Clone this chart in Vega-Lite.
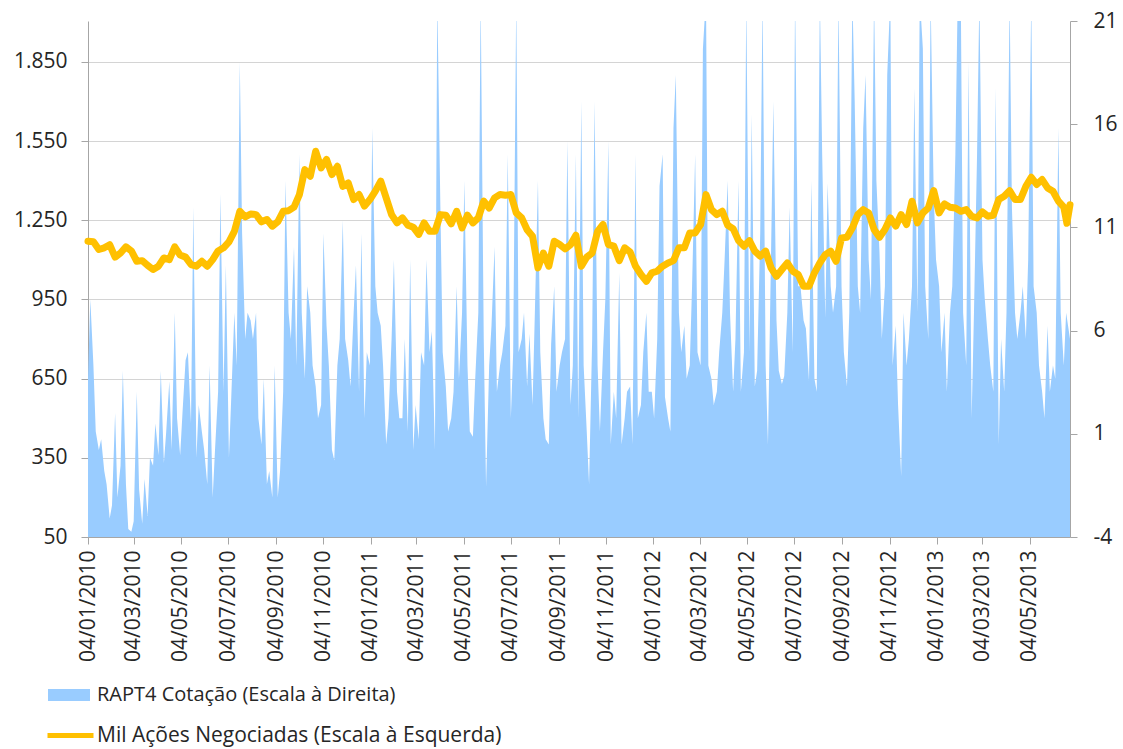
{
  "$schema": "https://vega.github.io/schema/vega-lite/v6.json",
  "autosize": {"type": "none"},
  "padding": {"left": 88, "top": 21, "right": 53, "bottom": 212},
  "width": 982,
  "height": 516,
  "background": "white",
  "config": {
    "view": {"stroke": null},
    "font": "Open Sans",
    "axis": {"labelFont": "Open Sans", "labelFontSize": 21, "labelColor": "#262626", "domainColor": "#A6A6A6", "tickColor": "#A6A6A6", "gridColor": "#D4D4D4", "tickSize": 7, "title": null}
  },
  "datasets": {
    "vol": [
      {"d":"2010-01-04","v":650},{"d":"2010-01-07","v":950},{"d":"2010-01-11","v":700},{"d":"2010-01-14","v":450},{"d":"2010-01-18","v":380},{"d":"2010-01-21","v":420},{"d":"2010-01-25","v":300},{"d":"2010-01-28","v":250},{"d":"2010-02-01","v":120},{"d":"2010-02-04","v":170},{"d":"2010-02-08","v":520},{"d":"2010-02-11","v":200},{"d":"2010-02-15","v":320},{"d":"2010-02-18","v":680},{"d":"2010-02-22","v":250},{"d":"2010-02-25","v":80},{"d":"2010-03-01","v":70},{"d":"2010-03-04","v":110},{"d":"2010-03-08","v":600},{"d":"2010-03-11","v":230},{"d":"2010-03-15","v":100},{"d":"2010-03-18","v":270},{"d":"2010-03-22","v":130},{"d":"2010-03-25","v":350},{"d":"2010-03-29","v":320},{"d":"2010-04-01","v":480},{"d":"2010-04-05","v":360},{"d":"2010-04-08","v":680},{"d":"2010-04-12","v":330},{"d":"2010-04-15","v":450},{"d":"2010-04-19","v":640},{"d":"2010-04-22","v":380},{"d":"2010-04-26","v":900},{"d":"2010-04-29","v":500},{"d":"2010-05-03","v":360},{"d":"2010-05-06","v":520},{"d":"2010-05-10","v":720},{"d":"2010-05-13","v":750},{"d":"2010-05-17","v":480},{"d":"2010-05-20","v":1300},{"d":"2010-05-24","v":350},{"d":"2010-05-27","v":550},{"d":"2010-05-31","v":450},{"d":"2010-06-03","v":380},{"d":"2010-06-07","v":250},{"d":"2010-06-10","v":700},{"d":"2010-06-14","v":200},{"d":"2010-06-17","v":380},{"d":"2010-06-21","v":600},{"d":"2010-06-24","v":1350},{"d":"2010-06-28","v":600},{"d":"2010-07-01","v":1080},{"d":"2010-07-05","v":350},{"d":"2010-07-08","v":580},{"d":"2010-07-12","v":900},{"d":"2010-07-15","v":700},{"d":"2010-07-19","v":1850},{"d":"2010-07-22","v":1200},{"d":"2010-07-26","v":800},{"d":"2010-07-29","v":900},{"d":"2010-08-02","v":870},{"d":"2010-08-05","v":800},{"d":"2010-08-09","v":900},{"d":"2010-08-12","v":500},{"d":"2010-08-16","v":400},{"d":"2010-08-19","v":650},{"d":"2010-08-23","v":250},{"d":"2010-08-26","v":300},{"d":"2010-08-30","v":200},{"d":"2010-09-02","v":700},{"d":"2010-09-06","v":200},{"d":"2010-09-09","v":300},{"d":"2010-09-13","v":600},{"d":"2010-09-16","v":1400},{"d":"2010-09-20","v":900},{"d":"2010-09-23","v":800},{"d":"2010-09-27","v":1150},{"d":"2010-09-30","v":700},{"d":"2010-10-04","v":1500},{"d":"2010-10-07","v":900},{"d":"2010-10-11","v":650},{"d":"2010-10-14","v":1000},{"d":"2010-10-18","v":900},{"d":"2010-10-21","v":700},{"d":"2010-10-25","v":620},{"d":"2010-10-28","v":500},{"d":"2010-11-01","v":550},{"d":"2010-11-04","v":1200},{"d":"2010-11-08","v":850},{"d":"2010-11-11","v":700},{"d":"2010-11-15","v":380},{"d":"2010-11-18","v":340},{"d":"2010-11-22","v":700},{"d":"2010-11-25","v":800},{"d":"2010-11-29","v":1250},{"d":"2010-12-02","v":800},{"d":"2010-12-06","v":720},{"d":"2010-12-09","v":620},{"d":"2010-12-13","v":900},{"d":"2010-12-16","v":1080},{"d":"2010-12-20","v":600},{"d":"2010-12-23","v":1200},{"d":"2010-12-27","v":500},{"d":"2010-12-30","v":750},
      {"d":"2011-01-03","v":700},{"d":"2011-01-06","v":1600},{"d":"2011-01-10","v":1000},{"d":"2011-01-13","v":900},{"d":"2011-01-17","v":850},{"d":"2011-01-20","v":700},{"d":"2011-01-24","v":400},{"d":"2011-01-27","v":500},{"d":"2011-01-31","v":800},{"d":"2011-02-03","v":1100},{"d":"2011-02-07","v":600},{"d":"2011-02-10","v":500},{"d":"2011-02-14","v":500},{"d":"2011-02-17","v":800},{"d":"2011-02-21","v":450},{"d":"2011-02-24","v":1100},{"d":"2011-02-28","v":380},{"d":"2011-03-03","v":550},{"d":"2011-03-07","v":420},{"d":"2011-03-10","v":750},{"d":"2011-03-14","v":700},{"d":"2011-03-17","v":1100},{"d":"2011-03-21","v":750},{"d":"2011-03-24","v":830},{"d":"2011-03-28","v":380},{"d":"2011-03-31","v":2100},{"d":"2011-04-04","v":1300},{"d":"2011-04-07","v":750},{"d":"2011-04-11","v":620},{"d":"2011-04-14","v":450},{"d":"2011-04-18","v":500},{"d":"2011-04-21","v":600},{"d":"2011-04-25","v":1000},{"d":"2011-04-28","v":650},{"d":"2011-05-02","v":900},{"d":"2011-05-05","v":1400},{"d":"2011-05-09","v":700},{"d":"2011-05-12","v":450},{"d":"2011-05-16","v":430},{"d":"2011-05-19","v":650},{"d":"2011-05-23","v":900},{"d":"2011-05-26","v":2100},{"d":"2011-05-30","v":800},{"d":"2011-06-02","v":240},{"d":"2011-06-06","v":700},{"d":"2011-06-09","v":850},{"d":"2011-06-13","v":1150},{"d":"2011-06-16","v":600},{"d":"2011-06-20","v":700},{"d":"2011-06-23","v":750},{"d":"2011-06-27","v":850},{"d":"2011-06-30","v":1500},{"d":"2011-07-04","v":500},{"d":"2011-07-07","v":750},{"d":"2011-07-11","v":2100},{"d":"2011-07-14","v":750},{"d":"2011-07-18","v":800},{"d":"2011-07-21","v":900},{"d":"2011-07-25","v":620},{"d":"2011-07-28","v":820},{"d":"2011-08-01","v":550},{"d":"2011-08-04","v":900},{"d":"2011-08-08","v":1400},{"d":"2011-08-11","v":750},{"d":"2011-08-15","v":500},{"d":"2011-08-18","v":420},{"d":"2011-08-22","v":400},{"d":"2011-08-25","v":780},{"d":"2011-08-29","v":1000},{"d":"2011-09-01","v":600},{"d":"2011-09-05","v":700},{"d":"2011-09-08","v":750},{"d":"2011-09-12","v":800},{"d":"2011-09-15","v":1550},{"d":"2011-09-19","v":550},{"d":"2011-09-22","v":700},{"d":"2011-09-26","v":1500},{"d":"2011-09-29","v":500},{"d":"2011-10-03","v":1700},{"d":"2011-10-06","v":700},{"d":"2011-10-10","v":450},{"d":"2011-10-13","v":250},{"d":"2011-10-17","v":800},{"d":"2011-10-20","v":1700},{"d":"2011-10-24","v":700},{"d":"2011-10-27","v":450},{"d":"2011-10-31","v":750},{"d":"2011-11-03","v":950},{"d":"2011-11-07","v":1550},{"d":"2011-11-10","v":400},{"d":"2011-11-14","v":600},{"d":"2011-11-17","v":500},{"d":"2011-11-21","v":1050},{"d":"2011-11-24","v":400},{"d":"2011-11-28","v":500},{"d":"2011-12-01","v":600},{"d":"2011-12-05","v":620},{"d":"2011-12-08","v":400},{"d":"2011-12-12","v":1500},{"d":"2011-12-15","v":500},{"d":"2011-12-19","v":550},{"d":"2011-12-22","v":750},{"d":"2011-12-26","v":900},{"d":"2011-12-29","v":600},
      {"d":"2012-01-02","v":600},{"d":"2012-01-05","v":500},{"d":"2012-01-09","v":800},{"d":"2012-01-12","v":1380},{"d":"2012-01-16","v":1500},{"d":"2012-01-19","v":580},{"d":"2012-01-23","v":500},{"d":"2012-01-26","v":450},{"d":"2012-01-30","v":1600},{"d":"2012-02-02","v":1800},{"d":"2012-02-06","v":900},{"d":"2012-02-09","v":750},{"d":"2012-02-13","v":850},{"d":"2012-02-16","v":650},{"d":"2012-02-20","v":700},{"d":"2012-02-23","v":1000},{"d":"2012-02-27","v":1500},{"d":"2012-03-01","v":750},{"d":"2012-03-05","v":700},{"d":"2012-03-08","v":1900},{"d":"2012-03-12","v":2100},{"d":"2012-03-15","v":700},{"d":"2012-03-19","v":650},{"d":"2012-03-22","v":550},{"d":"2012-03-26","v":600},{"d":"2012-03-29","v":750},{"d":"2012-04-02","v":900},{"d":"2012-04-05","v":1100},{"d":"2012-04-09","v":1400},{"d":"2012-04-12","v":900},{"d":"2012-04-16","v":600},{"d":"2012-04-19","v":800},{"d":"2012-04-23","v":1400},{"d":"2012-04-26","v":600},{"d":"2012-04-30","v":750},{"d":"2012-05-03","v":2100},{"d":"2012-05-07","v":750},{"d":"2012-05-10","v":1650},{"d":"2012-05-14","v":620},{"d":"2012-05-17","v":680},{"d":"2012-05-21","v":1200},{"d":"2012-05-24","v":2100},{"d":"2012-05-28","v":700},{"d":"2012-05-31","v":400},{"d":"2012-06-04","v":1130},{"d":"2012-06-07","v":1700},{"d":"2012-06-11","v":870},{"d":"2012-06-14","v":680},{"d":"2012-06-18","v":630},{"d":"2012-06-21","v":660},{"d":"2012-06-25","v":900},{"d":"2012-06-28","v":1300},{"d":"2012-07-02","v":750},{"d":"2012-07-05","v":2100},{"d":"2012-07-09","v":1000},{"d":"2012-07-12","v":1000},{"d":"2012-07-16","v":870},{"d":"2012-07-19","v":840},{"d":"2012-07-23","v":640},{"d":"2012-07-26","v":1400},{"d":"2012-07-30","v":650},{"d":"2012-08-02","v":600},{"d":"2012-08-06","v":2100},{"d":"2012-08-09","v":1500},{"d":"2012-08-13","v":880},{"d":"2012-08-16","v":1390},{"d":"2012-08-20","v":1000},{"d":"2012-08-23","v":900},{"d":"2012-08-27","v":1000},{"d":"2012-08-30","v":2100},{"d":"2012-09-03","v":1000},{"d":"2012-09-06","v":750},{"d":"2012-09-10","v":620},{"d":"2012-09-13","v":900},{"d":"2012-09-17","v":2100},{"d":"2012-09-20","v":1700},{"d":"2012-09-24","v":1000},{"d":"2012-09-27","v":900},{"d":"2012-10-01","v":1600},{"d":"2012-10-04","v":1800},{"d":"2012-10-08","v":1100},{"d":"2012-10-11","v":950},{"d":"2012-10-15","v":2100},{"d":"2012-10-18","v":1400},{"d":"2012-10-22","v":1130},{"d":"2012-10-25","v":800},{"d":"2012-10-29","v":1000},{"d":"2012-11-01","v":1800},{"d":"2012-11-05","v":2100},{"d":"2012-11-08","v":700},{"d":"2012-11-12","v":850},{"d":"2012-11-15","v":550},{"d":"2012-11-19","v":280},{"d":"2012-11-22","v":900},{"d":"2012-11-26","v":700},{"d":"2012-11-29","v":800},{"d":"2012-12-03","v":1000},{"d":"2012-12-06","v":1750},{"d":"2012-12-10","v":900},{"d":"2012-12-13","v":2100},{"d":"2012-12-17","v":1900},{"d":"2012-12-20","v":1000},{"d":"2012-12-24","v":800},{"d":"2012-12-27","v":2100},{"d":"2012-12-31","v":1350},
      {"d":"2013-01-03","v":1100},{"d":"2013-01-07","v":1000},{"d":"2013-01-10","v":750},{"d":"2013-01-14","v":900},{"d":"2013-01-17","v":600},{"d":"2013-01-21","v":900},{"d":"2013-01-24","v":1000},{"d":"2013-01-28","v":1500},{"d":"2013-01-31","v":2100},{"d":"2013-02-04","v":2100},{"d":"2013-02-07","v":900},{"d":"2013-02-11","v":700},{"d":"2013-02-14","v":1850},{"d":"2013-02-18","v":500},{"d":"2013-02-21","v":900},{"d":"2013-02-25","v":1500},{"d":"2013-02-28","v":2100},{"d":"2013-03-04","v":1100},{"d":"2013-03-07","v":950},{"d":"2013-03-11","v":800},{"d":"2013-03-14","v":700},{"d":"2013-03-18","v":600},{"d":"2013-03-21","v":1750},{"d":"2013-03-25","v":400},{"d":"2013-03-28","v":800},{"d":"2013-04-01","v":600},{"d":"2013-04-04","v":900},{"d":"2013-04-08","v":2100},{"d":"2013-04-11","v":1300},{"d":"2013-04-15","v":900},{"d":"2013-04-18","v":800},{"d":"2013-04-22","v":900},{"d":"2013-04-25","v":1000},{"d":"2013-04-29","v":800},{"d":"2013-05-02","v":1100},{"d":"2013-05-06","v":2100},{"d":"2013-05-09","v":1000},{"d":"2013-05-13","v":900},{"d":"2013-05-16","v":700},{"d":"2013-05-20","v":600},{"d":"2013-05-23","v":500},{"d":"2013-05-27","v":850},{"d":"2013-05-30","v":600},{"d":"2013-06-03","v":700},{"d":"2013-06-06","v":650},{"d":"2013-06-10","v":1600},{"d":"2013-06-13","v":900},{"d":"2013-06-17","v":700},{"d":"2013-06-20","v":900},{"d":"2013-06-25","v":800}
    ],
    "px": [
      {"d":"2010-01-04","p":10.33},{"d":"2010-01-11","p":10.3},{"d":"2010-01-18","p":9.93},{"d":"2010-01-25","p":10.01},{"d":"2010-02-01","p":10.16},{"d":"2010-02-08","p":9.56},{"d":"2010-02-15","p":9.76},{"d":"2010-02-22","p":10.06},{"d":"2010-03-01","p":9.86},{"d":"2010-03-08","p":9.36},{"d":"2010-03-15","p":9.39},{"d":"2010-03-22","p":9.16},{"d":"2010-03-29","p":8.96},{"d":"2010-04-05","p":9.12},{"d":"2010-04-12","p":9.52},{"d":"2010-04-19","p":9.44},{"d":"2010-04-26","p":10.06},{"d":"2010-05-03","p":9.66},{"d":"2010-05-10","p":9.56},{"d":"2010-05-17","p":9.2},{"d":"2010-05-24","p":9.12},{"d":"2010-05-31","p":9.36},{"d":"2010-06-07","p":9.12},{"d":"2010-06-14","p":9.44},{"d":"2010-06-21","p":9.86},{"d":"2010-06-28","p":10.01},{"d":"2010-07-05","p":10.3},{"d":"2010-07-12","p":10.81},{"d":"2010-07-19","p":11.78},{"d":"2010-07-26","p":11.51},{"d":"2010-08-02","p":11.65},{"d":"2010-08-09","p":11.62},{"d":"2010-08-16","p":11.27},{"d":"2010-08-23","p":11.38},{"d":"2010-08-30","p":11.06},{"d":"2010-09-06","p":11.27},{"d":"2010-09-13","p":11.78},{"d":"2010-09-20","p":11.81},{"d":"2010-09-27","p":11.98},{"d":"2010-10-04","p":12.59},{"d":"2010-10-11","p":13.8},{"d":"2010-10-18","p":13.48},{"d":"2010-10-25","p":14.69},{"d":"2010-11-01","p":13.88},{"d":"2010-11-08","p":14.29},{"d":"2010-11-15","p":13.56},{"d":"2010-11-22","p":13.96},{"d":"2010-11-29","p":12.99},{"d":"2010-12-06","p":13.16},{"d":"2010-12-13","p":12.35},{"d":"2010-12-20","p":12.59},{"d":"2010-12-27","p":12.03},
      {"d":"2011-01-03","p":12.35},{"d":"2011-01-10","p":12.76},{"d":"2011-01-17","p":13.24},{"d":"2011-01-24","p":12.43},{"d":"2011-01-31","p":11.62},{"d":"2011-02-07","p":11.22},{"d":"2011-02-14","p":11.46},{"d":"2011-02-21","p":11.11},{"d":"2011-02-28","p":11.01},{"d":"2011-03-07","p":10.66},{"d":"2011-03-14","p":11.22},{"d":"2011-03-21","p":10.81},{"d":"2011-03-28","p":10.81},{"d":"2011-04-04","p":11.62},{"d":"2011-04-11","p":11.59},{"d":"2011-04-18","p":11.17},{"d":"2011-04-25","p":11.78},{"d":"2011-05-02","p":10.98},{"d":"2011-05-09","p":11.59},{"d":"2011-05-16","p":11.22},{"d":"2011-05-23","p":11.46},{"d":"2011-05-30","p":12.27},{"d":"2011-06-06","p":11.94},{"d":"2011-06-13","p":12.43},{"d":"2011-06-20","p":12.59},{"d":"2011-06-27","p":12.56},{"d":"2011-07-04","p":12.59},{"d":"2011-07-11","p":11.7},{"d":"2011-07-18","p":11.46},{"d":"2011-07-25","p":10.89},{"d":"2011-08-01","p":10.57},{"d":"2011-08-08","p":9.04},{"d":"2011-08-15","p":9.76},{"d":"2011-08-22","p":9.12},{"d":"2011-08-29","p":10.33},{"d":"2011-09-05","p":10.17},{"d":"2011-09-12","p":9.96},{"d":"2011-09-19","p":10.16},{"d":"2011-09-26","p":10.62},{"d":"2011-10-03","p":9.12},{"d":"2011-10-10","p":9.56},{"d":"2011-10-17","p":9.76},{"d":"2011-10-24","p":10.81},{"d":"2011-10-31","p":11.14},{"d":"2011-11-07","p":10.17},{"d":"2011-11-14","p":10.09},{"d":"2011-11-21","p":9.39},{"d":"2011-11-28","p":10.01},{"d":"2011-12-05","p":9.81},{"d":"2011-12-12","p":9.12},{"d":"2011-12-19","p":8.72},{"d":"2011-12-26","p":8.39},
      {"d":"2012-01-02","p":8.8},{"d":"2012-01-09","p":8.88},{"d":"2012-01-16","p":9.12},{"d":"2012-01-23","p":9.28},{"d":"2012-01-30","p":9.39},{"d":"2012-02-06","p":10.01},{"d":"2012-02-13","p":10.01},{"d":"2012-02-20","p":10.73},{"d":"2012-02-27","p":10.73},{"d":"2012-03-05","p":11.14},{"d":"2012-03-12","p":12.59},{"d":"2012-03-19","p":11.86},{"d":"2012-03-26","p":11.62},{"d":"2012-04-02","p":11.78},{"d":"2012-04-09","p":11.1},{"d":"2012-04-16","p":10.94},{"d":"2012-04-23","p":10.36},{"d":"2012-04-30","p":10.09},{"d":"2012-05-07","p":10.36},{"d":"2012-05-14","p":9.85},{"d":"2012-05-21","p":9.6},{"d":"2012-05-28","p":9.85},{"d":"2012-06-04","p":9.04},{"d":"2012-06-11","p":8.63},{"d":"2012-06-18","p":8.96},{"d":"2012-06-25","p":9.28},{"d":"2012-07-02","p":8.88},{"d":"2012-07-09","p":8.72},{"d":"2012-07-16","p":8.15},{"d":"2012-07-23","p":8.15},{"d":"2012-07-30","p":8.8},{"d":"2012-08-06","p":9.28},{"d":"2012-08-13","p":9.68},{"d":"2012-08-20","p":9.85},{"d":"2012-08-27","p":9.36},{"d":"2012-09-03","p":10.49},{"d":"2012-09-10","p":10.52},{"d":"2012-09-17","p":10.98},{"d":"2012-09-24","p":11.62},{"d":"2012-10-01","p":11.86},{"d":"2012-10-08","p":11.7},{"d":"2012-10-15","p":10.9},{"d":"2012-10-22","p":10.52},{"d":"2012-10-29","p":10.9},{"d":"2012-11-05","p":11.46},{"d":"2012-11-12","p":11.06},{"d":"2012-11-19","p":11.62},{"d":"2012-11-26","p":11.14},{"d":"2012-12-03","p":12.27},{"d":"2012-12-10","p":11.22},{"d":"2012-12-17","p":11.7},{"d":"2012-12-24","p":11.94},{"d":"2012-12-31","p":12.78},
      {"d":"2013-01-07","p":11.7},{"d":"2013-01-14","p":12.14},{"d":"2013-01-21","p":11.98},{"d":"2013-01-28","p":11.94},{"d":"2013-02-04","p":11.78},{"d":"2013-02-11","p":11.86},{"d":"2013-02-18","p":11.54},{"d":"2013-02-25","p":11.46},{"d":"2013-03-04","p":11.75},{"d":"2013-03-11","p":11.54},{"d":"2013-03-18","p":11.59},{"d":"2013-03-25","p":12.35},{"d":"2013-04-01","p":12.51},{"d":"2013-04-08","p":12.78},{"d":"2013-04-15","p":12.35},{"d":"2013-04-22","p":12.35},{"d":"2013-04-29","p":12.99},{"d":"2013-05-06","p":13.43},{"d":"2013-05-13","p":13.08},{"d":"2013-05-20","p":13.32},{"d":"2013-05-27","p":12.91},{"d":"2013-06-03","p":12.75},{"d":"2013-06-10","p":12.27},{"d":"2013-06-17","p":11.98},{"d":"2013-06-21","p":11.2},{"d":"2013-06-25","p":12.1}
    ]
  },
  "encoding": {
    "x": {
      "field": "d", "type": "temporal",
      "scale": {"type": "utc", "nice": false, "domain": [{"year": 2010, "month": 1, "date": 4, "utc": true}, {"year": 2013, "month": 6, "date": 25, "utc": true}]},
      "axis": {
        "values": [
          {"year":2010,"month":1,"date":4,"utc":true},{"year":2010,"month":3,"date":4,"utc":true},{"year":2010,"month":5,"date":4,"utc":true},{"year":2010,"month":7,"date":4,"utc":true},{"year":2010,"month":9,"date":4,"utc":true},{"year":2010,"month":11,"date":4,"utc":true},
          {"year":2011,"month":1,"date":4,"utc":true},{"year":2011,"month":3,"date":4,"utc":true},{"year":2011,"month":5,"date":4,"utc":true},{"year":2011,"month":7,"date":4,"utc":true},{"year":2011,"month":9,"date":4,"utc":true},{"year":2011,"month":11,"date":4,"utc":true},
          {"year":2012,"month":1,"date":4,"utc":true},{"year":2012,"month":3,"date":4,"utc":true},{"year":2012,"month":5,"date":4,"utc":true},{"year":2012,"month":7,"date":4,"utc":true},{"year":2012,"month":9,"date":4,"utc":true},{"year":2012,"month":11,"date":4,"utc":true},
          {"year":2013,"month":1,"date":4,"utc":true},{"year":2013,"month":3,"date":4,"utc":true},{"year":2013,"month":5,"date":4,"utc":true}
        ],
        "labelExpr": "utcFormat(datum.value, '%d/%m/%Y')",
        "labelAngle": -90, "labelPadding": 6, "grid": false, "labelOverlap": false, "labelFlush": false
      }
    }
  },
  "layer": [
    {
      "data": {"name": "vol"},
      "mark": {"type": "area", "clip": true, "opacity": 1, "interpolate": "linear"},
      "encoding": {
        "y": {
          "field": "v", "type": "quantitative",
          "scale": {"domain": [50, 2005], "zero": false, "nice": false},
          "axis": {"orient": "left", "values": [50, 350, 650, 950, 1250, 1550, 1850], "grid": true, "labelPadding": 14, "labelExpr": "replace(format(datum.value, ','), ',', '.')"}
        },
        "fill": {
          "datum": "RAPT4 Cotação (Escala à Direita)", "type": "nominal",
          "scale": {"range": ["#99CCFF"]},
          "legend": {"orient": "none", "legendX": -40, "legendY": 653, "title": null, "padding": 0, "symbolType": "M-1,-0.28H1V0.28H-1Z", "symbolSize": 1764, "symbolStrokeWidth": 0, "symbolOpacity": 1, "labelOffset": 7, "labelFont": "Open Sans", "labelFontSize": 20, "labelColor": "#262626", "labelLimit": 600}
        }
      }
    },
    {
      "data": {"name": "px"},
      "mark": {"type": "line", "strokeWidth": 7, "strokeCap": "round", "strokeJoin": "round"},
      "encoding": {
        "y": {
          "field": "p", "type": "quantitative",
          "scale": {"domain": [-4, 21], "zero": false, "nice": false},
          "axis": {"orient": "right", "values": [-4, 1, 6, 11, 16, 21], "grid": false, "labelPadding": 16, "labelExpr": "'' + datum.value"}
        },
        "stroke": {
          "datum": "Mil Ações Negociadas (Escala à Esquerda)", "type": "nominal",
          "scale": {"range": ["#FFC000"]},
          "legend": {"orient": "none", "legendX": -43, "legendY": 689, "title": null, "padding": 0, "symbolType": "stroke", "symbolSize": 2116, "symbolStrokeWidth": 5, "labelOffset": 1, "labelFont": "Open Sans", "labelFontSize": 21, "labelColor": "#262626", "labelLimit": 600, "symbolStrokeColor": "#FFC000"}
        }
      }
    }
  ],
  "resolve": {"scale": {"y": "independent", "fill": "independent", "stroke": "independent"}}
}
